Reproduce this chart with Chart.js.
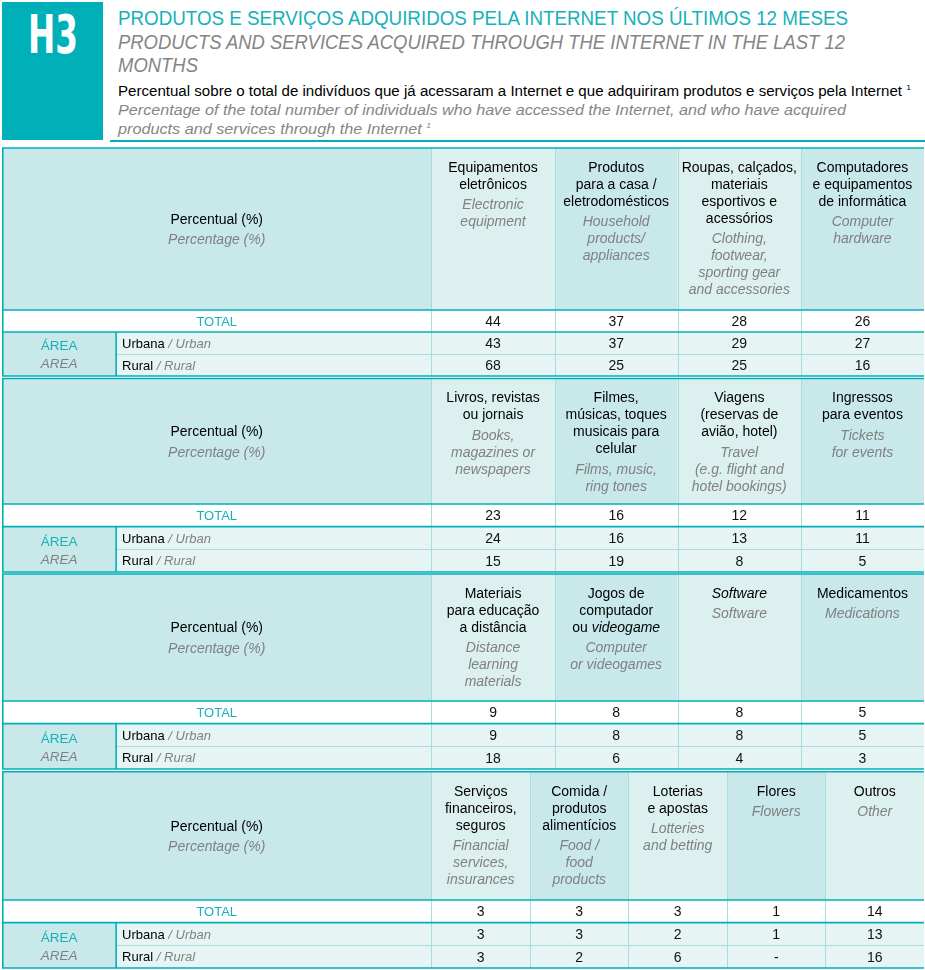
<!DOCTYPE html>
<html><head><meta charset="utf-8">
<script src="https://cdn.jsdelivr.net/npm/chart.js@4.4.1/dist/chart.umd.min.js"></script>
<style>
html,body{margin:0;padding:0;background:#fff;width:925px;height:970px;overflow:hidden;font-family:"Liberation Sans",Arial,sans-serif;}
.abs{position:absolute;white-space:nowrap;}
.fit{display:inline-block;transform-origin:0 0;}
#badge{left:2px;top:2px;width:101px;height:138px;background:#00b0b9;}
#h3{left:28px;top:8px;color:#fff;font-family:"Liberation Sans Narrow","DejaVu Sans Condensed",sans-serif;font-weight:bold;font-size:53px;line-height:53px;}
#t1{left:118px;top:7px;color:#16b1b9;font-size:21px;line-height:21px;}
#t2{left:118px;top:31px;color:#858585;font-style:italic;font-size:21px;line-height:21px;}
#t3{left:118px;top:54px;color:#858585;font-style:italic;font-size:21px;line-height:21px;}
#t4{left:118px;top:84px;color:#000;font-size:14px;line-height:14px;}
#t5{left:118px;top:102px;color:#858585;font-style:italic;font-size:15px;line-height:15px;}
#t6{left:118px;top:120.5px;color:#858585;font-style:italic;font-size:15px;line-height:15px;}
sup{font-size:8px;vertical-align:6px;line-height:0;}
#rule{left:110px;top:140px;width:815px;height:2px;background:#00b0b9;}
.blk{position:absolute;left:2px;width:922px;}
</style></head>
<body>
<div id="badge" class="abs"></div>
<div id="h3" class="abs"><span class="fit" data-w="50">H3</span></div>
<div id="t1" class="abs"><span class="fit" data-w="730">PRODUTOS E SERVIÇOS ADQUIRIDOS PELA INTERNET NOS ÚLTIMOS 12 MESES</span></div>
<div id="t2" class="abs"><span class="fit" data-w="727">PRODUCTS AND SERVICES ACQUIRED THROUGH THE INTERNET IN THE LAST 12</span></div>
<div id="t3" class="abs"><span class="fit" data-w="80">MONTHS</span></div>
<div id="t4" class="abs"><span class="fit" data-w="793">Percentual sobre o total de indivíduos que já acessaram a Internet e que adquiriram produtos e serviços pela Internet <sup>1</sup></span></div>
<div id="t5" class="abs"><span class="fit" data-w="728">Percentage of the total number of individuals who have accessed the Internet, and who have acquired</span></div>
<div id="t6" class="abs"><span class="fit" data-w="313">products and services through the Internet <sup>1</sup></span></div>
<div id="rule" class="abs"></div>

<div class="blk" id="b0"><canvas id="c0"></canvas></div>
<div class="blk" id="b1"><canvas id="c1"></canvas></div>
<div class="blk" id="b2"><canvas id="c2"></canvas></div>
<div class="blk" id="b3"><canvas id="c3"></canvas></div>

<script>
// ---------- DATA ----------
const categoriesPt = [
  "Equipamentos\neletrônicos",
  "Produtos\npara a casa /\neletrodomésticos",
  "Roupas, calçados,\nmateriais\nesportivos e\nacessórios",
  "Computadores\ne equipamentos\nde informática",
  "Livros, revistas\nou jornais",
  "Filmes,\nmúsicas, toques\nmusicais para\ncelular",
  "Viagens\n(reservas de\navião, hotel)",
  "Ingressos\npara eventos",
  "Materiais\npara educação\na distância",
  "Jogos de\ncomputador\nou *videogame*",
  "*Software*",
  "Medicamentos",
  "Serviços\nfinanceiros,\nseguros",
  "Comida /\nprodutos\nalimentícios",
  "Loterias\ne apostas",
  "Flores",
  "Outros"
];
const categoriesEn = [
  "Electronic\nequipment",
  "Household\nproducts/\nappliances",
  "Clothing,\nfootwear,\nsporting gear\nand accessories",
  "Computer\nhardware",
  "Books,\nmagazines or\nnewspapers",
  "Films, music,\nring tones",
  "Travel\n(e.g. flight and\nhotel bookings)",
  "Tickets\nfor events",
  "Distance\nlearning\nmaterials",
  "Computer\nor videogames",
  "Software",
  "Medications",
  "Financial\nservices,\ninsurances",
  "Food /\nfood\nproducts",
  "Lotteries\nand betting",
  "Flowers",
  "Other"
];
const totalValues = [44, 37, 28, 26, 23, 16, 12, 11, 9, 8, 8, 5, 3, 3, 3, 1, 14];
const urbanValues = [43, 37, 29, 27, 24, 16, 13, 11, 9, 8, 8, 5, 3, 3, 2, 1, 13];
const ruralValues = [68, 25, 25, 16, 15, 19, 8, 5, 18, 6, 4, 3, 3, 2, 6, null, 16];
const blockSizes = [4, 4, 4, 5];
const cornerPt = "Percentual (%)", cornerEn = "Percentage (%)";
const totalLabel = "TOTAL";
const groupPt = "ÁREA", groupEn = "AREA";
const rowLabelsPt = ["Urbana", "Rural"];
const rowLabelsEn = ["Urban", "Rural"];

// ---------- HEADER FIT ----------
document.querySelectorAll('.fit').forEach(el => {
  const w = el.getBoundingClientRect().width;
  const t = +el.dataset.w;
  if (w > 0) el.style.transform = 'scaleX(' + (t / w) + ')';
});

// ---------- TABLE (Chart.js) ----------
const TEAL = '#00b0b9', TEAL_TXT = '#19b1b9', LINE_LIGHT = '#a8dde0',
      DARK = '#c9e8ea', LIGHT = '#dcf0f0', ROW = '#e6f4f4', GRAY = '#808080';
const FONT = '"Liberation Sans", Arial, sans-serif';
// block geometry (layout only): top border y, header height, row height
const blockGeom = [
  { top: 148,   head: 162,   row: 22 },
  { top: 378.5, head: 125.5, row: 22.67 },
  { top: 574,   head: 127,   row: 22.67 },
  { top: 771.7, head: 128.3, row: 22.67 }
];
const LABEL_PX = 429, DATA_PX = 492, AREA_PX = 114;

function drawRich(ctx, str, x, y, size, color, align, invert) {
  const segs = str.split('*');
  const parts = segs.map((s, i) => {
    const it = invert ? (i % 2 === 0) : (i % 2 === 1);
    const f = (it ? 'italic ' : '') + size + 'px ' + FONT;
    ctx.font = f;
    return { s, f, w: ctx.measureText(s).width };
  }).filter(p => p.s.length);
  const total = parts.reduce((a, p) => a + p.w, 0);
  let cx = align === 'center' ? x - total / 2 : x;
  ctx.textAlign = 'left';
  ctx.textBaseline = 'middle';
  ctx.fillStyle = color;
  parts.forEach(p => { ctx.font = p.f; ctx.fillText(p.s, cx, y + 1); cx += p.w; });
}

function hline(ctx, x1, x2, y, w, c) {
  ctx.strokeStyle = c; ctx.lineWidth = w;
  ctx.beginPath(); ctx.moveTo(x1, y); ctx.lineTo(x2, y); ctx.stroke();
}
function vline(ctx, x, y1, y2, w, c) {
  ctx.strokeStyle = c; ctx.lineWidth = w;
  ctx.beginPath(); ctx.moveTo(x, y1); ctx.lineTo(x, y2); ctx.stroke();
}

let start = 0;
blockSizes.forEach((n, b) => {
  const g = blockGeom[b];
  const cTop = Math.floor(g.top) - 1;
  const bottom = g.top + g.head + 3 * g.row;
  const cH = Math.ceil(bottom) + 1 - cTop;
  const box = document.getElementById('b' + b);
  box.style.top = cTop + 'px';
  box.style.height = cH + 'px';
  const padTop = g.top - cTop, padBottom = cTop + cH - bottom;

  const idx = [];
  for (let i = 0; i < n; i++) idx.push(start + i);
  start += n;
  const colPx = DATA_PX / n;
  const labelUnits = LABEL_PX / colPx;
  const areaUnit = -labelUnits + AREA_PX / colPx;
  const hu = g.head / g.row;

  const mk = (vals, r) => ({
    label: ['total', 'urban', 'rural'][r],
    values: idx.map(i => vals[i]),
    data: idx.map((i, k) => ({ x: k + 0.5, y: hu + r + 0.5 })),
    pointRadius: 0, pointHoverRadius: 0, showLine: false
  });

  const plugin = {
    id: 'table' + b,
    beforeDatasetsDraw(chart) {
      const ctx = chart.ctx, xs = chart.scales.x, ys = chart.scales.y;
      const L = xs.getPixelForValue(-labelUnits), R = xs.getPixelForValue(n);
      const D0 = xs.getPixelForValue(0), A = xs.getPixelForValue(areaUnit);
      const yTop = ys.getPixelForValue(0), yH = ys.getPixelForValue(hu),
            yT = ys.getPixelForValue(hu + 1), yU = ys.getPixelForValue(hu + 2),
            yB = ys.getPixelForValue(hu + 3);
      ctx.save();
      // backgrounds
      ctx.fillStyle = DARK; ctx.fillRect(L, yTop, D0 - L, yH - yTop);
      idx.forEach((c, k) => {
        const x1 = xs.getPixelForValue(k), x2 = xs.getPixelForValue(k + 1);
        ctx.fillStyle = k % 2 ? DARK : LIGHT;
        ctx.fillRect(x1, yTop, x2 - x1, yH - yTop);
      });
      ctx.fillStyle = '#ffffff'; ctx.fillRect(L, yH, R - L, yT - yH);
      ctx.fillStyle = ROW; ctx.fillRect(L, yT, R - L, yB - yT);
      ctx.fillStyle = DARK; ctx.fillRect(L, yT, A - L, yB - yT);
      // light lines
      for (let k = 0; k < n; k++) vline(ctx, Math.round(xs.getPixelForValue(k)) + 0.5, yTop, yB, 1, LINE_LIGHT);
      hline(ctx, A, R, Math.round(yU) + 0.5, 1, LINE_LIGHT);
      // teal lines
      vline(ctx, L + 0.8, yTop, yB, 1.6, TEAL);
      vline(ctx, A, yT, yB, 1.6, TEAL);
      hline(ctx, L, R, yTop, 1.6, TEAL);
      hline(ctx, L, R, yH, 1.6, TEAL);
      hline(ctx, L, R, yT, 1.6, TEAL);
      hline(ctx, L, R, yB, 1.6, TEAL);

      // corner text
      const cxL = (L + D0) / 2, cyH = (yTop + yH) / 2;
      drawRich(ctx, cornerPt, cxL, cyH - 10, 14, '#000', 'center');
      drawRich(ctx, cornerEn, cxL, cyH + 10.5, 14, GRAY, 'center', true);
      // column headers
      idx.forEach((c, k) => {
        const cx = xs.getPixelForValue(k + 0.5);
        let y = yTop + 19;
        categoriesPt[c].split('\n').forEach(line => { drawRich(ctx, line, cx, y, 14, '#000', 'center'); y += 17; });
        y += 3.5;
        categoriesEn[c].split('\n').forEach(line => { drawRich(ctx, line, cx, y, 14, GRAY, 'center', true); y += 17; });
      });
      // row labels
      drawRich(ctx, totalLabel, cxL, (yH + yT) / 2, 13, TEAL_TXT, 'center');
      const ax = (L + A) / 2;
      drawRich(ctx, groupPt, ax, yU - 8.5, 13.5, TEAL_TXT, 'center');
      drawRich(ctx, groupEn, ax, yU + 9.5, 13.5, GRAY, 'center', true);
      [[yT, yU], [yU, yB]].forEach((p, r) => {
        const yy = (p[0] + p[1]) / 2;
        ctx.font = '13px ' + FONT;
        const w = ctx.measureText(rowLabelsPt[r]).width;
        drawRich(ctx, rowLabelsPt[r], A + 6, yy, 13, '#000', 'left');
        drawRich(ctx, ' / ' + rowLabelsEn[r], A + 6 + w, yy, 13, GRAY, 'left', true);
      });
      ctx.restore();
    },
    afterDatasetsDraw(chart) {
      const ctx = chart.ctx;
      ctx.save();
      chart.data.datasets.forEach((ds, di) => {
        const meta = chart.getDatasetMeta(di);
        meta.data.forEach((el, k) => {
          const v = ds.values[k];
          drawRich(ctx, v === null ? '-' : String(v), el.x, el.y, 14, '#111', 'center');
        });
      });
      ctx.restore();
    }
  };

  new Chart(document.getElementById('c' + b), {
    type: 'scatter',
    data: { datasets: [mk(totalValues, 0), mk(urbanValues, 1), mk(ruralValues, 2)] },
    options: {
      responsive: true, maintainAspectRatio: false, animation: false,
      events: [],
      layout: { padding: { top: padTop, bottom: padBottom, left: 0, right: 0 } },
      plugins: { legend: { display: false }, tooltip: { enabled: false } },
      scales: {
        x: { type: 'linear', display: false, min: -labelUnits, max: n },
        y: { type: 'linear', display: false, reverse: true, min: 0, max: hu + 3 }
      }
    },
    plugins: [plugin]
  });
});
</script>
</body></html>
